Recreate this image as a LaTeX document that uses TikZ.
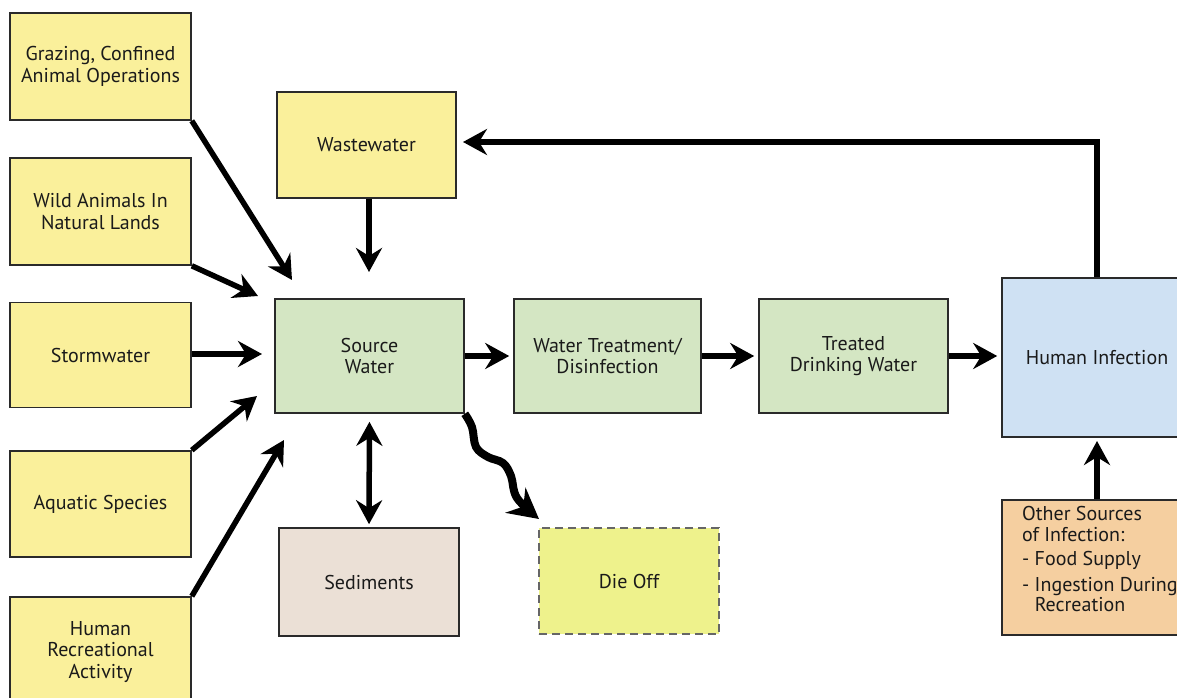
\documentclass[tikz,border=0pt]{standalone}
\usepackage{fontspec}
\setmainfont{PT Sans}
\usetikzlibrary{arrows.meta}
\definecolor{ylw}{HTML}{FAF09B}
\definecolor{dieoff}{HTML}{EEF28C}
\definecolor{grn}{HTML}{D4E6C3}
\definecolor{blu}{HTML}{CFE1F3}
\definecolor{sedc}{HTML}{EBE0D6}
\definecolor{peach}{HTML}{F5CFA0}
\definecolor{edge}{HTML}{2A2A2A}
\definecolor{txt}{HTML}{1A1A1A}
\tikzset{
  box/.style={draw=edge, line width=1.6pt, align=center, text=txt, inner sep=2pt,
    font=\fontsize{20}{21.5}\selectfont},
  ybox/.style={box, fill=ylw, minimum width=181pt, minimum height=106pt},
  gbox/.style={box, fill=grn, minimum height=114pt},
  arr/.style={line width=5.5pt, -{Stealth[length=24pt,width=26pt,inset=8pt]}},
  darr/.style={line width=5.5pt, {Stealth[length=24pt,width=26pt,inset=8pt]}-{Stealth[length=24pt,width=26pt,inset=8pt]}},
}
\begin{document}
\begin{tikzpicture}[x=1pt,y=-1pt]
\useasboundingbox (0,0) rectangle (1177,698);
% left sources
\node[ybox, minimum height=107pt] (graz) at (100.5,66.5) {Grazing, Confined\\Animal Operations};
\node[ybox, minimum height=107pt] (wild) at (100.5,211.5) {Wild Animals In\\Natural Lands};
\node[ybox, minimum height=105pt] (storm) at (100.5,355) {Stormwater};
\node[ybox] (aqua) at (100.5,504) {Aquatic Species};
\node[ybox, minimum height=110pt] (hrec) at (100.5,652) {Human\\Recreational\\Activity};
% wastewater
\node[ybox, minimum width=179pt] (waste) at (366.5,145) {Wastewater};
% main row
\node[gbox, minimum width=189pt] (src) at (369.5,356) {Source\\Water};
\node[gbox, minimum width=187pt] (wt) at (607.5,356) {Water Treatment/\\Disinfection};
\node[gbox, minimum width=189pt] (tdw) at (853.5,356) {Treated\\Drinking Water};
\node[box, fill=blu, minimum width=190pt, minimum height=159pt] (hi) at (1097,357.5) {Human Infection};
% bottom
\node[box, fill=sedc, minimum width=180pt, minimum height=108pt] (sed) at (369,582) {Sediments};
\node[box, fill=dieoff, draw=gray!80!black, dashed, dash pattern=on 8pt off 5pt, minimum width=180pt, minimum height=106pt] (die) at (629,581) {Die Off};
\node[box, fill=peach, minimum width=190pt, minimum height=135pt] (oth) at (1097,567.5) {};
\node[anchor=north west, align=left, text=txt, inner sep=0pt,
  font=\fontsize{20}{21.5}\selectfont] (othtxt) at (1022,506)
  {Other Sources\\of Infection:\\[2pt]- Food Supply\\[5pt]- Ingestion During\\[-2pt]\phantom{- }Recreation};
% arrow tips
\coordinate (t1) at (292,280);
\coordinate (t2) at (258,296);
\coordinate (t3) at (262,354);
\coordinate (t4) at (257,396);
\coordinate (t5) at (284,440);
\coordinate (t6) at (369,272);
\coordinate (tw) at (463,142);
\coordinate (th) at (1097,441);
\coordinate (w1) at (472,427);
\coordinate (w2) at (476,447);
\coordinate (w3) at (488,457);
\coordinate (w4) at (503,463);
\coordinate (w5) at (511,476);
\coordinate (w6) at (517,498);
\coordinate (w7) at (539,519);
% connectors
\draw[arr] (graz.south east) -- (t1);
\draw[arr] (wild.south east) -- (t2);
\draw[arr] (storm.east |- t3) -- (t3);
\draw[arr] (aqua.north east) -- (t4);
\draw[arr] (hrec.north east) -- (t5);
\draw[arr] (waste.south -| t6) -- (t6);
\draw[arr, shorten >=4pt] (src.east) -- (wt.west);
\draw[arr, shorten >=4pt] (wt.east) -- (tdw.west);
\draw[arr, shorten >=4pt] (tdw.east) -- (tdw.east -| hi.west);
\draw[arr] (hi.north) |- (tw);
\draw[arr] (oth.north) -- (th);
\draw[darr, shorten <=8pt, shorten >=3pt] (src.south) -- (sed.north);
\draw[line width=8pt, line join=round, -{Stealth[length=30pt,width=32pt,inset=10pt]}]
  plot[smooth, tension=0.6] coordinates {(src.south east) (w1) (w2) (w3) (w4) (w5) (w6) (w7)};
\end{tikzpicture}
\end{document}
